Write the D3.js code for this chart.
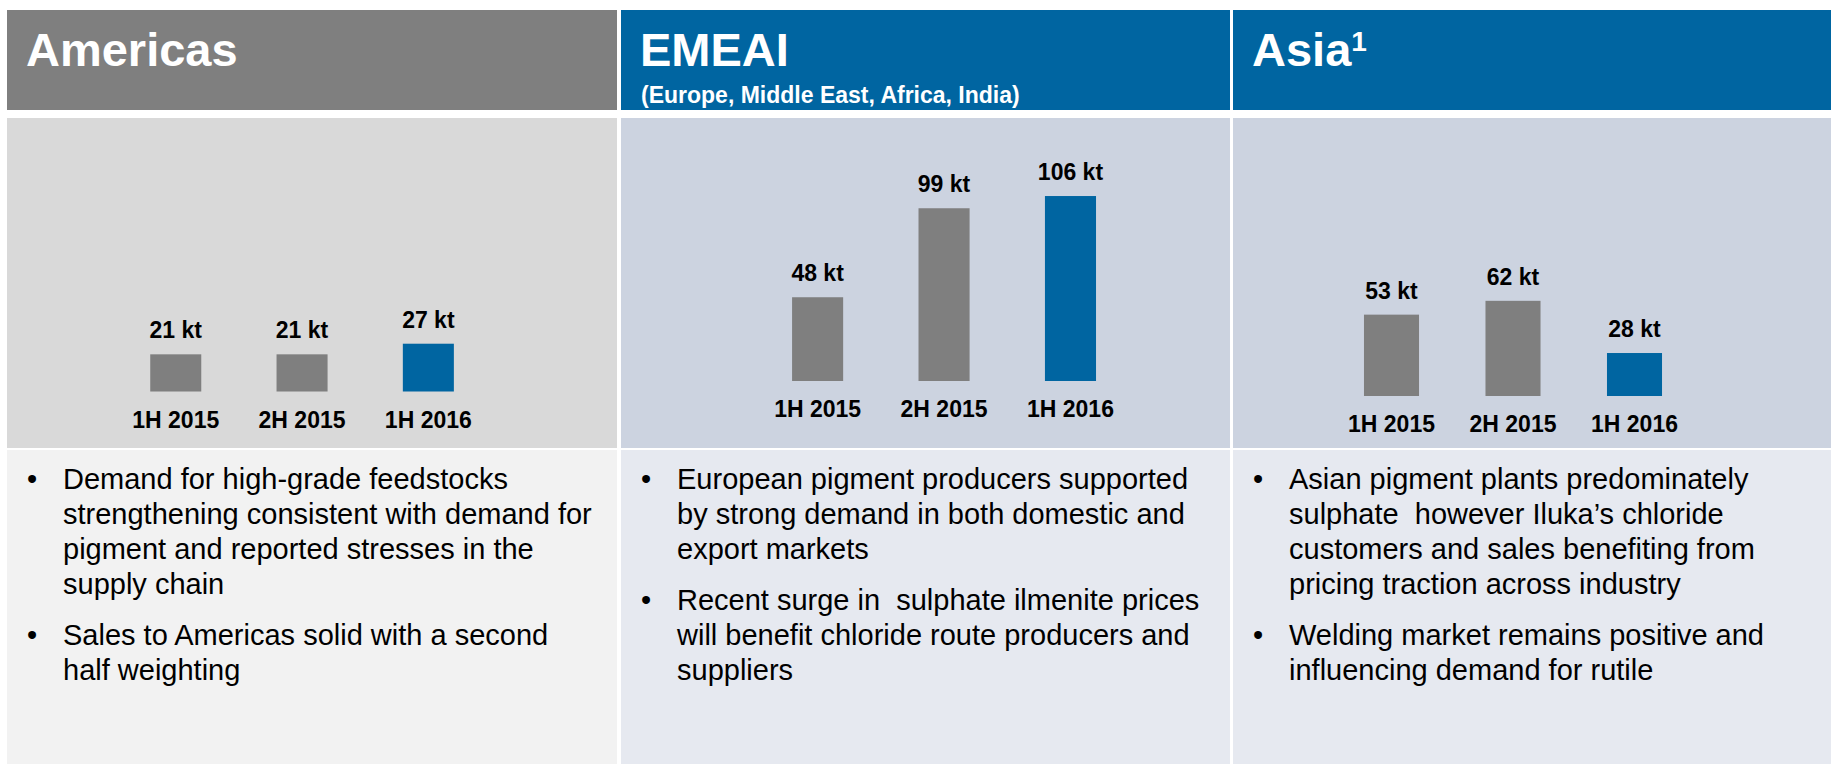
<!DOCTYPE html>
<meta charset="utf-8">
<script src="https://cdn.jsdelivr.net/npm/d3@7"></script>
<style>
    body { margin: 0; background: #fff; }
    svg text { font-family: "Liberation Sans", Arial, sans-serif; }
</style>
<div id="chart"></div>
<script>
    // periods on the x axis of each small chart
    var categories = ["1H 2015", "2H 2015", "1H 2016"];

    // sales in kt per region
    var americasValues = [21, 21, 27];
    var emeaiValues = [48, 99, 106];
    var asiaValues = [53, 62, 28];

    var regionTitles = ["Americas", "EMEAI", "Asia"];
    var emeaiSubtitle = "(Europe, Middle East, Africa, India)";

    var americasBullets = [
        ["Demand for high-grade feedstocks", "strengthening consistent with demand for", "pigment and reported stresses in the", "supply chain"],
        ["Sales to Americas solid with a second", "half weighting"]
    ];
    var emeaiBullets = [
        ["European pigment producers supported", "by strong demand in both domestic and", "export markets"],
        ["Recent surge in  sulphate ilmenite prices", "will benefit chloride route producers and", "suppliers"]
    ];
    var asiaBullets = [
        ["Asian pigment plants predominately", "sulphate  however Iluka\u2019s chloride", "customers and sales benefiting from", "pricing traction across industry"],
        ["Welding market remains positive and", "influencing demand for rutile"]
    ];

    var width = 1831,
        height = 764;

    var grey = "#7f7f7f",
        blue = "#0065a1";

    // layout of the three columns
    var panels = [
        { title: regionTitles[0], values: americasValues, bullets: americasBullets,
          x0: 7, x1: 617, head: grey, chartBg: "#d9d9d9", textBg: "#f2f2f2",
          band: [112.6, 491.5], pad: 0.596, base: 391.5, ppk: 1.77 },
        { title: regionTitles[1], values: emeaiValues, bullets: emeaiBullets,
          x0: 621, x1: 1230, head: blue, chartBg: "#ccd3e0", textBg: "#e6e9f0",
          band: [754.4, 1133.7], pad: 0.596, base: 381, ppk: 1.745 },
        { title: regionTitles[2], values: asiaValues, bullets: asiaBullets,
          x0: 1233, x1: 1831, head: blue, chartBg: "#ccd3e0", textBg: "#e6e9f0",
          band: [1330.75, 1695.25], pad: 0.547, base: 396, ppk: 1.535 }
    ];

    var svg = d3.select("#chart")
        .append("svg")
        .attr("width", width)
        .attr("height", height);

    panels.forEach(function(p, i) {
        var g = svg.append("g");

        // header block
        g.append("rect")
            .attr("x", p.x0).attr("y", 10)
            .attr("width", p.x1 - p.x0).attr("height", 100)
            .attr("fill", p.head);

        var title = g.append("text")
            .attr("x", p.x0 + 19)
            .attr("y", 66)
            .attr("fill", "#fff")
            .style("font-weight", "bold")
            .style("font-size", "47px")
            .text(p.title);

        if (i == 1) {
            g.append("text")
                .attr("x", p.x0 + 20)
                .attr("y", 103)
                .attr("fill", "#fff")
                .style("font-weight", "bold")
                .style("font-size", "23px")
                .text(emeaiSubtitle);
        }
        if (i == 2) {
            title.append("tspan")
                .attr("dy", -15)
                .style("font-size", "28px")
                .text("1");
        }

        // chart area
        g.append("rect")
            .attr("x", p.x0).attr("y", 118)
            .attr("width", p.x1 - p.x0).attr("height", 330)
            .attr("fill", p.chartBg);

        var x = d3.scaleBand()
            .domain(categories)
            .range(p.band)
            .paddingInner(p.pad)
            .paddingOuter(p.pad / 2);

        var y = d3.scaleLinear()
            .domain([0, 100])
            .range([p.base, p.base - 100 * p.ppk]);

        var data = p.values.map(function(v, j) {
            return { cat: categories[j], value: v, last: j == categories.length - 1 };
        });

        g.selectAll(".bar")
            .data(data)
            .enter()
            .append("rect")
            .attr("x", function(d) { return x(d.cat); })
            .attr("y", function(d) { return y(d.value); })
            .attr("width", x.bandwidth())
            .attr("height", function(d) { return y(0) - y(d.value); })
            .attr("fill", function(d) { return d.last ? blue : grey; });

        // value labels
        g.selectAll(".val")
            .data(data)
            .enter()
            .append("text")
            .attr("text-anchor", "middle")
            .attr("x", function(d) { return x(d.cat) + x.bandwidth() / 2; })
            .attr("y", function(d) { return y(d.value) - 16; })
            .style("font-weight", "bold")
            .style("font-size", "23px")
            .text(function(d) { return d.value + " kt"; });

        // period labels
        g.selectAll(".cat")
            .data(data)
            .enter()
            .append("text")
            .attr("text-anchor", "middle")
            .attr("x", function(d) { return x(d.cat) + x.bandwidth() / 2; })
            .attr("y", y(0) + 36)
            .style("font-weight", "bold")
            .style("font-size", "23px")
            .text(function(d) { return d.cat; });

        // commentary
        g.append("rect")
            .attr("x", p.x0).attr("y", 450)
            .attr("width", p.x1 - p.x0).attr("height", height - 450)
            .attr("fill", p.textBg);

        var lineY = 489;
        p.bullets.forEach(function(lines, k) {
            if (k > 0) lineY += 16;
            g.append("text")
                .attr("x", p.x0 + 20)
                .attr("y", lineY)
                .style("font-size", "29px")
                .text("\u2022");
            lines.forEach(function(line) {
                g.append("text")
                    .attr("x", p.x0 + 56)
                    .attr("y", lineY)
                    .attr("xml:space", "preserve")
                    .style("white-space", "pre")
                    .style("font-size", "29px")
                    .text(line);
                lineY += 35;
            });
        });
    });
</script>
